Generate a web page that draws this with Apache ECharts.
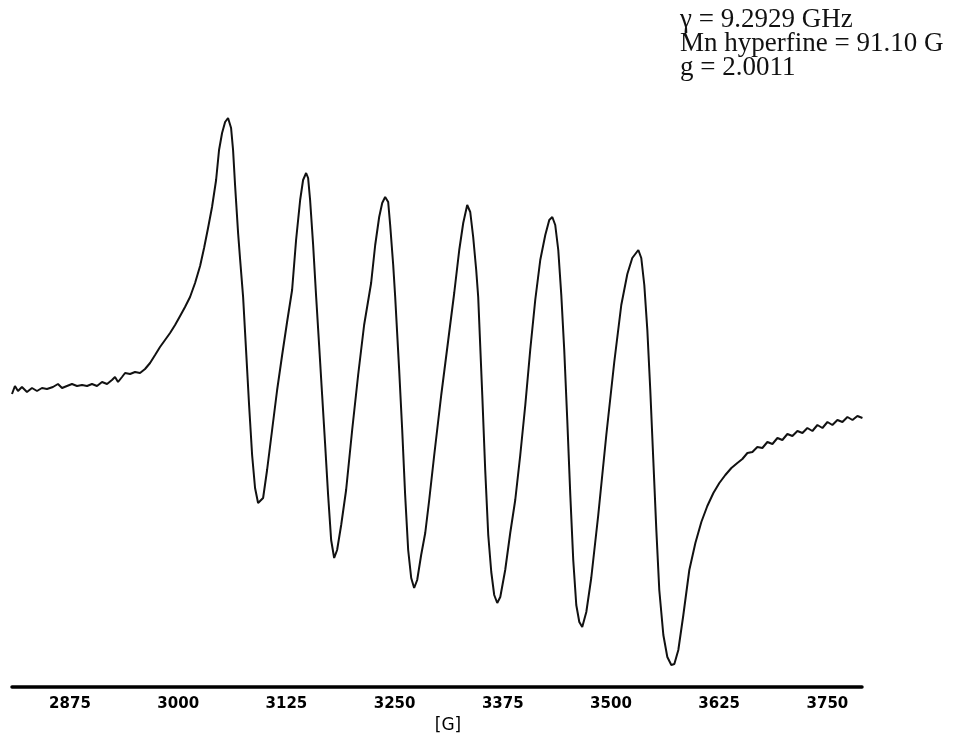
<!DOCTYPE html>
<html>
<head>
    <meta charset="utf-8">
    <title>EPR spectrum</title>
    <style type="text/css">
        html, body { margin: 0; padding: 0; background: #fff; }
        #main { width: 965px; height: 734px; }
    </style>
</head>
<body>
    <div id="main"></div>
</body>
<script src="https://cdn.jsdelivr.net/npm/echarts@6/dist/echarts.min.js"></script>
<script type="text/javascript">
    // magnetic field [G]
    var field = [
        2808.0, 2811.4, 2814.9, 2819.5, 2825.3, 2831.1, 2836.9, 2842.6, 2848.4, 2855.3,
        2861.1, 2865.8, 2871.5, 2877.3, 2883.1, 2888.9, 2894.7, 2900.4, 2906.2, 2912.0,
        2917.8, 2923.5, 2927.0, 2930.5, 2935.1, 2938.6, 2944.4, 2950.1, 2955.9, 2961.7,
        2967.5, 2973.3, 2979.0, 2984.8, 2990.6, 2996.4, 3002.2, 3007.9, 3013.7, 3019.5,
        3025.3, 3029.9, 3034.5, 3039.1, 3043.8, 3047.2, 3050.7, 3054.2, 3057.6, 3061.1,
        3063.4, 3065.7, 3069.2, 3071.5, 3075.0, 3078.4, 3081.9, 3085.4, 3088.8, 3092.3,
        3094.6, 3098.1, 3102.7, 3108.5, 3114.3, 3120.1, 3125.8, 3131.6, 3136.2, 3140.9,
        3144.3, 3147.8, 3150.1, 3152.4, 3155.9, 3159.4, 3162.8, 3166.3, 3169.8, 3173.2,
        3176.7, 3180.2, 3183.6, 3188.3, 3194.0, 3201.0, 3207.9, 3214.8, 3222.9, 3227.6,
        3232.2, 3235.7, 3239.1, 3242.6, 3244.9, 3248.4, 3250.7, 3255.3, 3258.8, 3262.2,
        3265.7, 3269.2, 3272.6, 3276.1, 3280.7, 3285.4, 3290.0, 3295.8, 3303.9, 3312.0,
        3318.9, 3324.7, 3329.3, 3333.9, 3337.4, 3340.8, 3344.3, 3346.6, 3351.3, 3354.7,
        3358.2, 3361.7, 3365.1, 3368.6, 3372.1, 3377.8, 3383.6, 3389.4, 3395.2, 3401.0,
        3406.7, 3412.5, 3418.3, 3424.1, 3428.7, 3432.2, 3435.6, 3439.1, 3442.6, 3446.0,
        3449.5, 3453.0, 3456.4, 3459.9, 3463.4, 3466.8, 3471.5, 3477.2, 3485.3, 3494.6,
        3503.8, 3511.9, 3518.9, 3524.6, 3531.6, 3535.0, 3538.5, 3542.0, 3545.4, 3548.9,
        3552.4, 3555.8, 3560.5, 3565.1, 3569.7, 3573.2, 3577.8, 3583.6, 3590.5, 3597.5,
        3604.4, 3611.3, 3618.3, 3625.2, 3632.1, 3639.1, 3646.0, 3651.8, 3657.6, 3663.4,
        3669.1, 3674.9, 3680.7, 3686.5, 3692.3, 3698.0, 3703.8, 3709.6, 3715.4, 3721.2,
        3726.9, 3732.7, 3738.5, 3744.3, 3750.1, 3755.8, 3761.6, 3767.4, 3773.2, 3779.0,
        3784.7, 3790.5
    ];
    // derivative signal, arbitrary units
    var signal = [
        293, 301, 296, 300, 295, 299, 296, 299, 298, 300,
        303, 299, 301, 303, 301, 302, 301, 303, 301, 305,
        303, 307, 310, 305, 310, 314, 313, 315, 314, 318,
        324, 332, 340, 347, 354, 362, 371, 380, 390, 404,
        421, 439, 459, 480, 507, 537, 554, 565, 569, 559,
        537, 502, 454, 428, 390, 337, 282, 232, 199, 184,
        182, 189, 217, 257, 297, 332, 365, 397, 447, 487,
        507, 514, 509, 487, 442, 390, 342, 292, 242, 192,
        147, 129, 137, 162, 197, 257, 312, 362, 404, 442,
        470, 484, 490, 485, 462, 422, 390, 317, 257, 192,
        137, 109, 99, 107, 132, 154, 187, 232, 292, 347,
        394, 437, 464, 482, 475, 450, 417, 390, 292, 217,
        152, 115, 92, 84, 90, 117, 154, 187, 232, 282,
        337, 387, 427, 452, 467, 470, 462, 437, 392, 337,
        267, 192, 127, 82, 65, 60, 75, 109, 172, 252,
        325, 382, 413, 429, 437, 429, 402, 357, 297, 227,
        157, 97, 52, 30, 22, 23, 37, 72, 117, 144,
        165, 181, 194, 204, 212, 219, 224, 228, 234, 235,
        240, 239, 245, 243, 249, 247, 253, 251, 256, 254,
        259, 256, 262, 259, 265, 262, 267, 265, 270, 267,
        271, 269
    ];
    var tickLabels = [2875, 3000, 3125, 3250, 3375, 3500, 3625, 3750];
    var notes = ['\u03b3 = 9.2929 GHz', 'Mn hyperfine = 91.10 G', 'g = 2.0011'];

    var points = [];
    for (var i = 0; i < field.length; i++) {
        points.push([field[i], signal[i]]);
    }

    var option = {
        backgroundColor: '#ffffff',
        animation: false,
        title: {
            text: notes.join('\n'),
            left: 675,
            top: 3,
            textStyle: {
                fontFamily: 'Liberation Serif',
                fontWeight: 'normal',
                fontSize: 27,
                lineHeight: 24,
                color: '#111'
            }
        },
        grid: { left: 12, right: 103, top: 87, bottom: 47, outerBoundsMode: 'none' },
        xAxis: {
            type: 'value',
            min: 2808,
            max: 3790,
            name: '[G]',
            nameLocation: 'middle',
            nameGap: 27,
            nameTextStyle: {
                fontFamily: 'DejaVu Sans',
                fontSize: 17,
                color: '#000',
                padding: [0, 0, 0, 22]
            },
            axisLine: { onZero: false, lineStyle: { color: '#000', width: 3.5 } },
            axisTick: { show: false },
            splitLine: { show: false },
            axisLabel: {
                customValues: tickLabels,
                margin: 10,
                fontFamily: 'DejaVu Sans',
                fontWeight: 'bold',
                fontSize: 15,
                color: '#000',
                formatter: function (v) {
                    return String(v);
                }
            }
        },
        yAxis: {
            type: 'value',
            min: 0,
            max: 600,
            show: false
        },
        series: [{
            type: 'line',
            data: points,
            showSymbol: false,
            clip: false,
            lineStyle: { color: '#111', width: 2 }
        }]
    };

    var myChart = echarts.init(document.getElementById('main'));
    myChart.setOption(option);
</script>
</html>
